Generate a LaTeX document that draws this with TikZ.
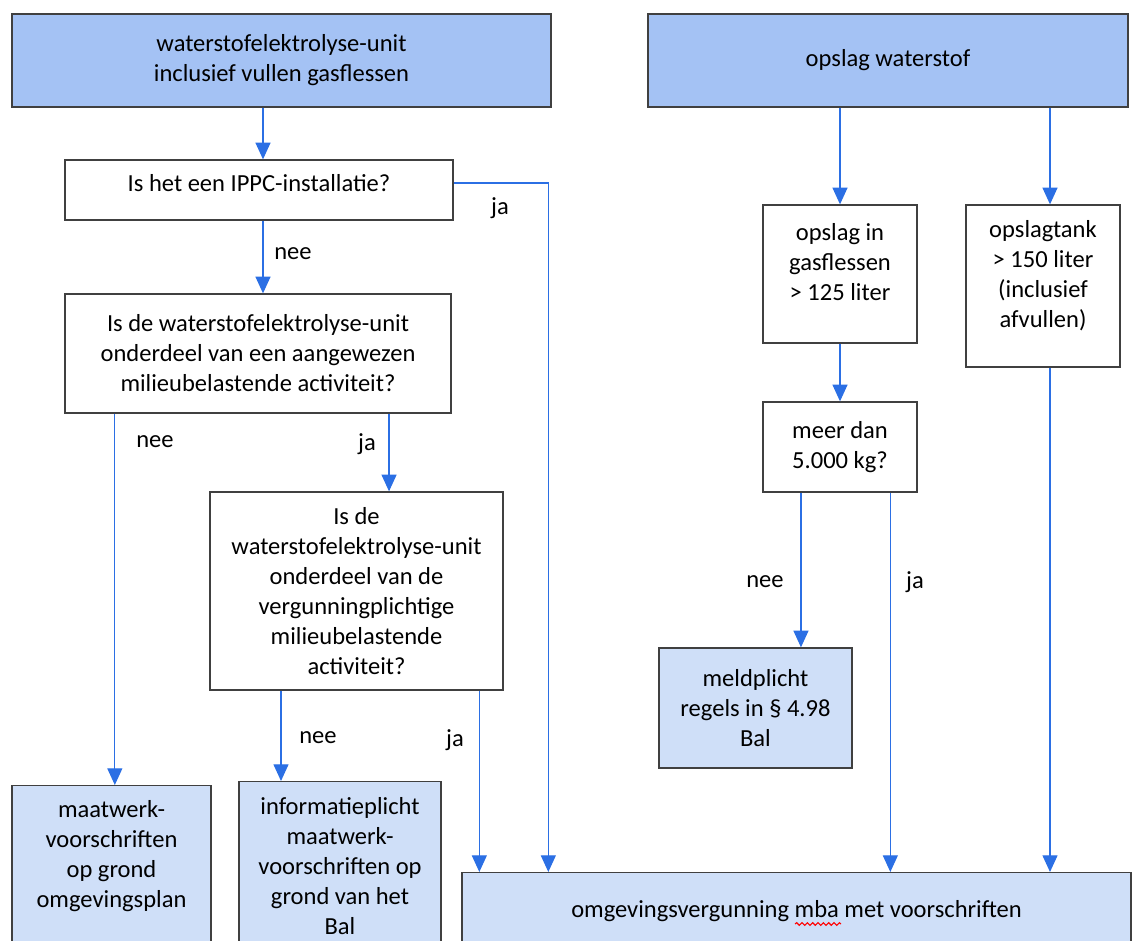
\documentclass[tikz,border=0pt]{standalone}
\usepackage{fontspec}
\setmainfont{Carlito}
\usetikzlibrary{arrows.meta, calc, positioning, decorations.pathmorphing}

\definecolor{darkfill}{HTML}{A4C2F4}
\definecolor{lightfill}{HTML}{CFDFF8}
\definecolor{flowblue}{HTML}{2B6FE4}
\definecolor{boxline}{HTML}{404040}

\begin{document}
\begin{tikzpicture}[x=0.75pt, y=-0.75pt, >={Triangle[width=11.25pt,length=12.5pt]}]
    \tikzstyle{box} = [draw=boxline, line width=1pt, align=center, inner sep=0pt,
	font=\fontsize{18.4}{22.5}\selectfont]
    \tikzstyle{head} = [box, fill=darkfill]
    \tikzstyle{question} = [box, fill=white]
    \tikzstyle{result} = [box, fill=lightfill]
    \tikzstyle{flow} = [->, flowblue, line width=0.9pt]
    \tikzstyle{answer} = [inner sep=0pt, font=\fontsize{18.4}{22.5}\selectfont]

	\clip (0,0) rectangle (1132,941);

	\begin{scope}
		\path
			node[head, minimum width=404.25pt, minimum height=69.75pt] (elek) at (281.5,60.5)
				{waterstofelektrolyse-unit\\inclusief vullen gasflessen}
			node[head, minimum width=360pt, minimum height=69.75pt] (opslag) at (888,60.5)
				{opslag waterstof}

			node[question, minimum width=291pt, minimum height=45pt, text depth=10pt] (ippc) at (259,190)
				{Is het een IPPC-installatie?}
			node[question, minimum width=289.5pt, minimum height=89.25pt] (aangw) at (258,353.5)
				{Is de waterstofelektrolyse-unit\\onderdeel van een aangewezen\\milieubelastende activiteit?}
			node[question, minimum width=219.75pt, minimum height=148.5pt] (vergp) at (356.5,591)
				{Is de\\waterstofelektrolyse-unit\\onderdeel van de\\vergunningplichtige\\milieubelastende\\activiteit?}

			node[question, minimum width=115.5pt, minimum height=103.5pt, text depth=18pt] (gasfl) at (840,274)
				{opslag in\\gasflessen\\> 125 liter}
			node[question, minimum width=115.5pt, minimum height=121.5pt, text depth=18.5pt] (tank) at (1043,286)
				{opslagtank\\> 150 liter\\(inclusief\\afvullen)}
			node[question, minimum width=115.5pt, minimum height=67.5pt] (kg) at (840,447)
				{meer dan\\5.000 kg?}

			node[result, minimum width=144.75pt, minimum height=90pt] (meld) at (755.5,708)
				{meldplicht\\regels in \S\ 4.98\\Bal}
			node[result, anchor=north, minimum width=149.25pt, inner ysep=11pt,
				text height=80.5pt, text depth=60pt] (maat) at (111.5,785)
				{maatwerk-\\voorschriften\\op grond\\omgevingsplan}
			node[result, anchor=north, minimum width=151.5pt, inner ysep=11.75pt,
				text height=103pt, text depth=60pt] (info) at (340,781)
				{informatieplicht\\maatwerk-\\voorschriften op\\grond van het\\Bal}
			node[result, anchor=north, minimum width=501.75pt, inner ysep=20.75pt,
				text height=13pt, text depth=40pt] (omg) at (796.5,872)
				{omgevingsvergunning mba met voorschriften}

			node[answer] (neeA) at (293,254) {nee}
			node[answer] (jaA) at (500,208) {ja}
			node[answer] (neeB) at (155,442) {nee}
			node[answer] (jaB) at (367,444) {ja}
			node[answer] (neeC) at (318,738) {nee}
			node[answer] (jaC) at (455,740) {ja}
			node[answer] (neeD) at (765,582) {nee}
			node[answer] (jaD) at (915,582) {ja}

			([xshift=3pt]elek.south -| ippc.north) edge[flow] ([xshift=3pt]ippc.north)
			([xshift=3pt]ippc.south) edge[flow] ([xshift=3pt]ippc.south |- aangw.north)
			([yshift=5.25pt]ippc.east) edge[flow, to path={-| (\tikztotarget)}] ([xshift=65.25pt]omg.north west)

			([xshift=2.5pt]aangw.south -| maat.north) edge[flow] ([xshift=2.5pt]maat.north)
			([xshift=24.4pt]vergp.north |- aangw.south) edge[flow] ([xshift=24.4pt]vergp.north)

			([xshift=-44.25pt]info.north |- vergp.south) edge[flow] ([xshift=-44.25pt]info.north)
			([xshift=13.5pt]omg.north west |- vergp.south) edge[flow] ([xshift=13.5pt]omg.north west)

			(opslag.south -| gasfl.north) edge[flow] (gasfl.north)
			([xshift=5.25pt]opslag.south -| tank.north) edge[flow] ([xshift=5.25pt]tank.north)
			(gasfl.south) edge[flow] (kg.north)

			([xshift=34.1pt]meld.north |- kg.south) edge[flow] ([xshift=34.1pt]meld.north)
			([xshift=321.75pt]omg.north west |- kg.south) edge[flow] ([xshift=321.75pt]omg.north west)
			([xshift=5.25pt]tank.south) edge[flow] ([xshift=5.25pt]tank.south |- omg.north)
		;
	\end{scope}

	% spelling mark under "mba"
	\draw[red, line width=0.8pt, decorate, decoration={snake, amplitude=1pt, segment length=4pt}]
		(795,924) -- (841,924);
\end{tikzpicture}
\end{document}
